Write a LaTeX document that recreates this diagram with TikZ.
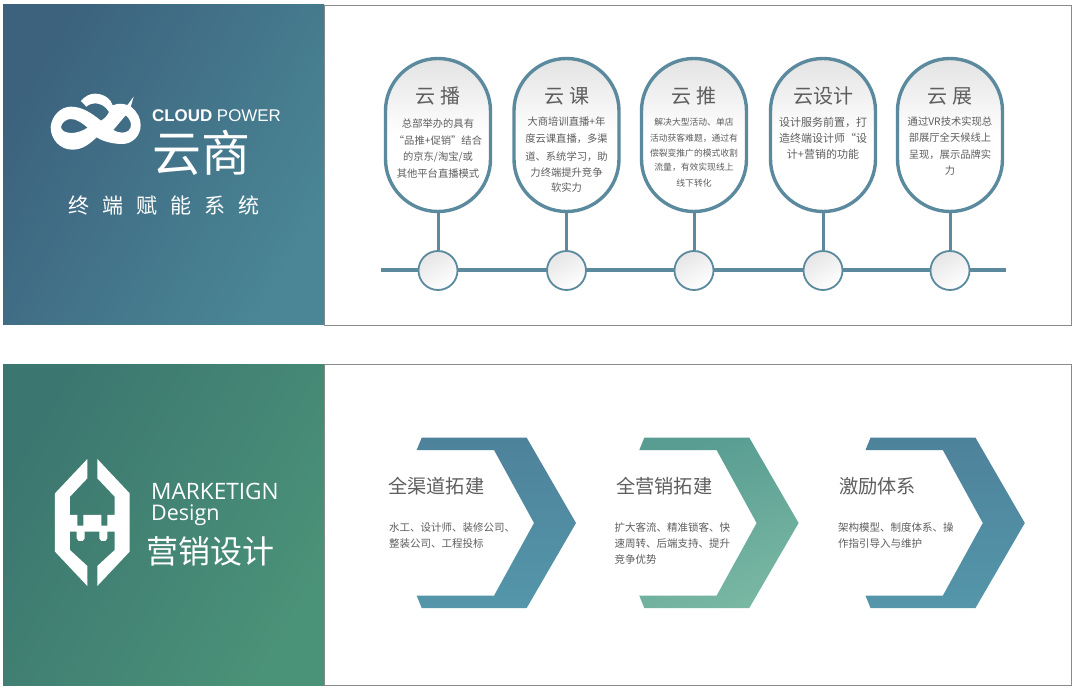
\documentclass[tikz,border=0pt]{standalone}
\usepackage{fontspec}
\setmainfont{Noto Sans CJK SC}
\newfontfamily\latinf{Liberation Sans}
\newfontfamily\opensf{Open Sans}
\definecolor{stroke}{HTML}{5B8A9E}
\definecolor{txt}{HTML}{5E5E5E}
\definecolor{bordc}{HTML}{8A8A8A}
\tikzset{
  x=1pt,y=-1pt,
  pill/.style={draw=stroke,line width=3.4pt,minimum width=105pt,minimum height=153pt,rounded corners=52.4pt,inner sep=0pt,
    shading=axis,top color=black!11,bottom color=white,middle color=white},
  dot/.style={circle,draw=stroke,line width=1.8pt,minimum size=39pt,inner sep=0pt,top color=black!10,bottom color=white,shading angle=30},
  link/.style={draw=stroke,line width=3pt},
  frame/.style={draw=bordc,line width=0.8pt,fill=white},
  head/.style={text=txt,font=\fontsize{20pt}{22pt}\selectfont,inner sep=0pt},
  body/.style={text=txt,font=\fontsize{10.3pt}{12pt}\selectfont,inner sep=0pt},
  chevtitle/.style={text=txt,font=\fontsize{19.2pt}{22pt}\selectfont,inner sep=0pt,anchor=west},
  chevbody/.style={text=txt,font=\fontsize{10.5pt}{16pt}\selectfont,inner sep=0pt,anchor=north west,align=left},
  wtext/.style={text=white,inner sep=0pt,anchor=west},
}
\newcommand{\chevpath}{(421.7,437.7) -- (526.7,437.7) -- (576,523) -- (526.7,608) -- (421.7,608) -- (416.7,595.7) -- (494,595.7) -- (534,523) -- (494,450) -- (416.7,450) -- cycle}
\begin{document}
\begin{tikzpicture}
\useasboundingbox (0,0) rectangle (1080,695);
\fill[white] (0,0) rectangle (1080,695);
% panel 1
\draw[frame] (324,5) rectangle (1071,325);
\shade[left color={rgb,255:red,60;green,98;blue,126},right color={rgb,255:red,74;green,134;blue,149},shading angle=60] (3,5) rectangle (324,325);
% panel 2
\draw[frame] (324,364) rectangle (1071,685);
\shade[left color={rgb,255:red,60;green,118;blue,112},right color={rgb,255:red,74;green,146;blue,120},shading angle=60] (3,364) rectangle (324,685);

% logo 1
\begin{scope}[shift={(45,90)},x=0.3333pt,y=-0.3333pt]
\fill[white,even odd rule]
 (17,112) .. controls (19,80) and (45,50) .. (78,50)
 .. controls (112,50) and (140,70) .. (168,92)
 .. controls (180,85) and (188,75) .. (192,66)
 .. controls (182,48) and (165,40) .. (150,40)
 .. controls (140,40) and (133,43) .. (124,50)
 -- (108,33)
 .. controls (120,18) and (135,11) .. (150,11)
 .. controls (178,11) and (198,28) .. (203,46)
 .. controls (220,38) and (245,40) .. (260,52)
 .. controls (277,66) and (287,85) .. (287,105)
 .. controls (287,138) and (262,162) .. (232,162)
 .. controls (205,162) and (175,155) .. (155,142)
 .. controls (135,160) and (115,179) .. (82,179)
 .. controls (45,179) and (17,148) .. (17,112) -- cycle
 (48,110) .. controls (52,95) and (65,87) .. (78,87)
 .. controls (95,87) and (112,100) .. (128,113)
 .. controls (112,123) and (95,129) .. (80,129)
 .. controls (62,129) and (48,122) .. (48,110) -- cycle
 (205,120) -- (242,76)
 .. controls (252,84) and (258,95) .. (258,104)
 .. controls (258,118) and (248,128) .. (232,128)
 .. controls (222,128) and (213,125) .. (205,120) -- cycle;
\fill[white] (232,66) -- (266,20) -- (251,72) -- cycle;
\end{scope}
\node[wtext,font=\latinf\fontsize{16.9pt}{20pt}\selectfont] (cp) at (152,116) {\textbf{CLOUD} POWER};
\node[wtext,font=\fontsize{49pt}{52pt}\selectfont] (ys) at (152,153) {云商};
\node[wtext,font=\fontsize{21pt}{24pt}\selectfont] (zd) at (68,206) {终\hspace{13pt}端\hspace{13pt}赋\hspace{13pt}能\hspace{13pt}系\hspace{13pt}统};

% logo 2
\begin{scope}[shift={(50,455)},x=0.3333pt,y=-0.3333pt]
\fill[white] (112,12) -- (15,115) -- (15,290) -- (112,393) -- (112,333) -- (60,285) -- (60,230) -- (80,230) -- (80,250) -- (86,258) -- (98,258) -- (104,250) -- (104,230) -- (148,230) -- (148,250) -- (154,258) -- (166,258) -- (172,250) -- (172,230) -- (194,230) -- (194,285) -- (142,333) -- (142,393) -- (239,290) -- (239,115) -- (142,12) -- (142,70) -- (194,125) -- (194,180) -- (172,180) -- (172,212) -- (154,212) -- (154,180) -- (100,180) -- (100,212) -- (82,212) -- (82,180) -- (60,180) -- (60,125) -- (112,70) -- cycle;
\end{scope}
\node[wtext,font=\opensf\fontsize{22.6pt}{25pt}\selectfont] (mk) at (151,491) {MARKETIGN};
\node[wtext,font=\opensf\fontsize{21.5pt}{24pt}\selectfont,anchor=base west] (ds) at (151,520) {Design};
\node[wtext,font=\fontsize{32pt}{35pt}\selectfont] (yx) at (146,551) {营销设计};

% timeline
\coordinate (ls) at (381,270);
\coordinate (le) at (1006,270);
\draw[link,line width=4pt] (ls) -- (le);
\foreach \n/\cx in {a/438,b/566.5,c/694,d/823,e/950}{
  \node[pill] (p\n) at (\cx,135) {};
  \node[dot] (c\n) at (\cx,270.5) {};
  \draw[link] (p\n.south) -- (c\n.north);
}
\node[head] (ha) at (438,96) {云\hspace{5pt}播};
\node[head] (hb) at (566.5,96) {云\hspace{5pt}课};
\node[head] (hc) at (694,96) {云\hspace{5pt}推};
\node[head] (hd) at (823,96) {云设计};
\node[head] (he) at (950,96) {云\hspace{5pt}展};

\foreach \y/\t in {124/总部举办的具有,141/“品推+促销”结合,174/其他平台直播模式}
  \node[body] at (438,\y) {\t};
\node[body] (jd) at (438,157) {的京东/淘宝/或};
\foreach \y/\t in {122/大商培训直播+年,139/度云课直播，多渠,157/道、系统学习，助,173/力终端提升竞争,188/软实力}
  \node[body] at (566.5,\y) {\t};
\foreach \y/\t in {122/解决大型活动、单店,138/活动获客难题，通过有,153/偿裂变推广的模式收割,167/流量，有效实现线上,183/线下转化}
  \node[body,font=\fontsize{8.8pt}{10pt}\selectfont] at (694,\y) {\t};
\foreach \y/\t in {122/设计服务前置，打,138/造终端设计师“设,154/计+营销的功能}
  \node[body,font=\fontsize{11pt}{12pt}\selectfont] at (823,\y) {\t};
\foreach \y/\t in {122/通过VR技术实现总,138/部展厅全天候线上,155/呈现，展示品牌实,171/力}
  \node[body] at (950,\y) {\t};

% chevrons
\shade[top color={rgb,255:red,78;green,130;blue,155},bottom color={rgb,255:red,84;green,150;blue,170}] \chevpath;
\begin{scope}[xshift=222.6pt]
\shade[top color={rgb,255:red,88;green,156;blue,146},bottom color={rgb,255:red,120;green,183;blue,162},shading angle=20] \chevpath;
\end{scope}
\begin{scope}[xshift=448.8pt]
\shade[top color={rgb,255:red,78;green,130;blue,155},bottom color={rgb,255:red,84;green,150;blue,170}] \chevpath;
\end{scope}
\node[chevtitle] (t1) at (388,486) {全渠道拓建};
\node[chevtitle] (t2) at (616,486) {全营销拓建};
\node[chevtitle] (t3) at (839,486) {激励体系};
\node[chevbody] (b1) at (389,522) {水工、设计师、装修公司、\\整装公司、工程投标};
\node[chevbody] (b2) at (614.5,522) {扩大客流、精准锁客、快\\速周转、后端支持、提升\\竞争优势};
\node[chevbody] (b3) at (838,522) {架构模型、制度体系、操\\作指引导入与维护};
\end{tikzpicture}
\end{document}
